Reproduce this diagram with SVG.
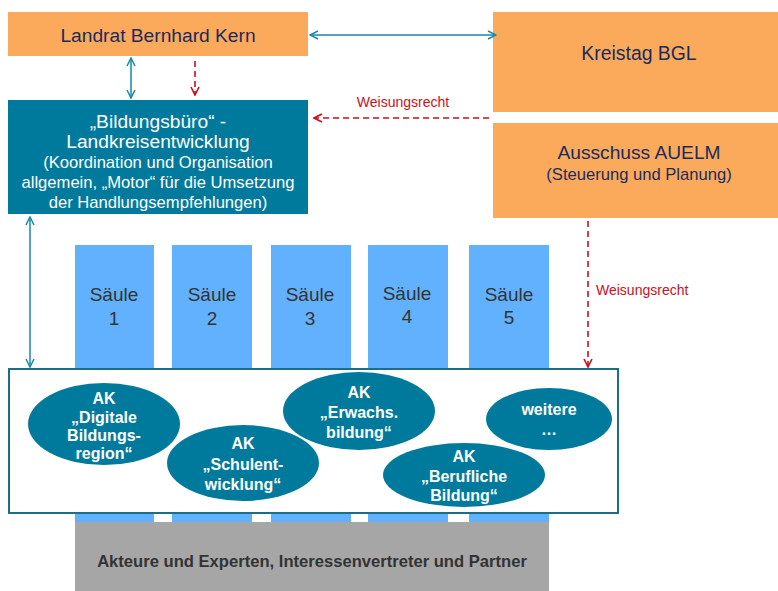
<svg xmlns="http://www.w3.org/2000/svg" width="778" height="591" viewBox="0 0 778 591">
<defs>
<style>
text{font-family:"Liberation Sans",Arial,sans-serif;text-anchor:middle;dominant-baseline:central}
.or{fill:#FBAA5C}
.nv{fill:#1B2A5C}
.wh{fill:#fff}
.sl{fill:#62B1FF}
.ell{fill:#007A9C}
.ak{fill:#fff;font-weight:bold;font-size:16px}
.sa{fill:#333;font-size:19px}
.bl{stroke:#1A87A8;stroke-width:1.5;fill:none}
.rd{stroke:#C8101E;stroke-width:1.6;fill:none;stroke-dasharray:6 4}
.rt{fill:#C8101E;font-size:14px}
</style>
<marker id="ab" viewBox="0 0 10 10" refX="9" refY="5" markerWidth="10" markerHeight="10" markerUnits="userSpaceOnUse" orient="auto-start-reverse"><path d="M1,1 L9,5 L1,9" fill="none" stroke="#1A87A8" stroke-width="1.5"/></marker>
<marker id="ar" viewBox="0 0 10 10" refX="9" refY="5" markerWidth="10" markerHeight="10" markerUnits="userSpaceOnUse" orient="auto"><path d="M1,1 L9,5 L1,9" fill="none" stroke="#C8101E" stroke-width="1.6"/></marker>
</defs>
<rect width="778" height="591" fill="#fff"/>

<g id="saeulen">
<rect class="sl" x="75" y="245" width="79" height="280"/>
<rect class="sl" x="172" y="245" width="80" height="280"/>
<rect class="sl" x="271" y="245" width="80" height="280"/>
<rect class="sl" x="368" y="245" width="80" height="280"/>
<rect class="sl" x="469" y="245" width="80" height="280"/>
<text class="sa" x="114" y="294">Säule</text><text class="sa" x="114" y="318">1</text>
<text class="sa" x="212" y="294">Säule</text><text class="sa" x="212" y="318">2</text>
<text class="sa" x="310" y="294">Säule</text><text class="sa" x="310" y="318">3</text>
<text class="sa" x="407" y="293">Säule</text><text class="sa" x="407" y="316">4</text>
<text class="sa" x="509" y="294">Säule</text><text class="sa" x="509" y="317">5</text>
</g>

<g id="akteure">
<rect x="75" y="522" width="474" height="69" fill="#A6A6A6"/>
<text x="312" y="561" font-size="16.6" font-weight="bold" fill="#333">Akteure und Experten, Interessenvertreter und Partner</text>
</g>

<g id="ak-box">
<rect x="9" y="369" width="609" height="144" fill="#fff" stroke="#1A6F86" stroke-width="2"/>
</g>

<g id="ak1">
<ellipse class="ell" cx="104" cy="424" rx="76" ry="41"/>
<text class="ak" x="104" y="398">AK</text>
<text class="ak" x="104" y="417">„Digitale</text>
<text class="ak" x="104" y="435">Bildungs-</text>
<text class="ak" x="104" y="453">region“</text>
</g>
<g id="ak2">
<ellipse class="ell" cx="243" cy="463" rx="76" ry="38"/>
<text class="ak" x="243" y="443">AK</text>
<text class="ak" x="243" y="464">„Schulent-</text>
<text class="ak" x="243" y="484">wicklung“</text>
</g>
<g id="ak3">
<ellipse class="ell" cx="359" cy="411" rx="76" ry="39"/>
<text class="ak" x="359" y="392">AK</text>
<text class="ak" x="359" y="412">„Erwachs.</text>
<text class="ak" x="359" y="432">bildung“</text>
</g>
<g id="ak4">
<ellipse class="ell" cx="464" cy="475" rx="81" ry="32"/>
<text class="ak" x="464" y="456">AK</text>
<text class="ak" x="464" y="476">„Berufliche</text>
<text class="ak" x="464" y="495">Bildung“</text>
</g>
<g id="ak5">
<ellipse class="ell" cx="549" cy="419" rx="63" ry="31"/>
<text class="ak" x="549" y="409">weitere</text>
<text class="ak" x="549" y="429">…</text>
</g>

<g id="landrat">
<rect class="or" x="8" y="12" width="300" height="44"/>
<text class="nv" x="158" y="35" font-size="19.2">Landrat Bernhard Kern</text>
</g>
<g id="kreistag">
<rect class="or" x="493" y="12" width="285" height="100"/>
<text class="nv" x="639" y="53" font-size="19.4">Kreistag BGL</text>
</g>
<g id="ausschuss">
<rect class="or" x="493" y="123" width="285" height="95"/>
<text class="nv" x="639" y="152" font-size="19.2">Ausschuss AUELM</text>
<text class="nv" x="639" y="174" font-size="16.6">(Steuerung und Planung)</text>
</g>
<g id="bildungsbuero">
<rect x="8" y="100" width="300" height="114" fill="#007A9C"/>
<text class="wh" x="158" y="121" font-size="19.2">„Bildungsbüro“ -</text>
<text class="wh" x="158" y="141" font-size="19.2">Landkreisentwicklung</text>
<text class="wh" x="158" y="162" font-size="16.6">(Koordination und Organisation</text>
<text class="wh" x="158" y="182" font-size="16.6">allgemein, „Motor“ für die Umsetzung</text>
<text class="wh" x="158" y="202" font-size="16.6">der Handlungsempfehlungen)</text>
</g>

<g id="connectors">
<line class="bl" x1="310" y1="35" x2="496" y2="35" marker-start="url(#ab)" marker-end="url(#ab)"/>
<line class="bl" x1="131" y1="58" x2="131" y2="98" marker-start="url(#ab)" marker-end="url(#ab)"/>
<line class="bl" x1="30" y1="217" x2="30" y2="367" marker-start="url(#ab)" marker-end="url(#ab)"/>
<line class="rd" x1="195" y1="61" x2="195" y2="95" marker-end="url(#ar)"/>
<line class="rd" x1="489" y1="118" x2="314" y2="118" marker-end="url(#ar)"/>
<text class="rt" x="403" y="102">Weisungsrecht</text>
<line class="rd" x1="588" y1="221" x2="588" y2="367" marker-end="url(#ar)"/>
<text class="rt" x="596" y="290" style="text-anchor:start">Weisungsrecht</text>
</g>
</svg>
